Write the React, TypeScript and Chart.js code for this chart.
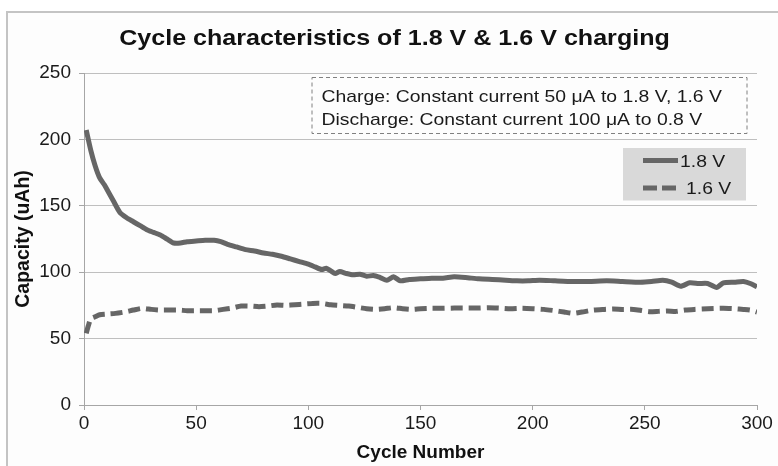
import React, { useEffect, useRef } from "react";
import { Chart, registerables } from "chart.js";

Chart.register(...registerables);

const TITLE = "Cycle characteristics of 1.8 V & 1.6 V charging";
const X_TITLE = "Cycle Number";
const Y_TITLE = "Capacity (uAh)";
const NOTE_LINES = [
  "Charge: Constant current 50 \u03bcA to 1.8 V, 1.6 V",
  "Discharge: Constant current 100 \u03bcA to 0.8 V",
];
const SERIES_NAMES = ["1.8 V", "1.6 V"];

const cycles18 = [1, 3, 5, 7, 9, 11, 13, 16, 19, 22, 25, 28, 31, 34, 37, 40, 43, 46, 50, 54, 58, 61, 64, 68, 72, 76, 80, 84, 88, 92, 96, 100, 103, 106, 108, 110, 112, 114, 117, 120, 123, 126, 129, 132, 135, 138, 141, 145, 150, 155, 160, 165, 170, 176, 182, 188, 193, 198, 203, 210, 218, 225, 233, 240, 248, 253, 258, 262, 266, 270, 274, 278, 282, 285, 290, 294, 297, 300];
const cap18 = [207, 192, 180, 171, 166, 160, 154, 145, 141, 138, 135, 132, 130, 128, 125, 122, 122, 123, 123.5, 124, 124, 123, 121, 119, 117, 116, 114.5, 113.5, 112, 110, 108, 106, 104, 102, 103, 101, 99, 100.5, 99, 98, 98.5, 97, 97.5, 96, 94, 96.5, 93.5, 94.5, 95, 95.5, 95.5, 96.5, 96, 95, 94.5, 94, 93.5, 93.5, 94, 93.5, 93, 93, 93.5, 93, 92.5, 93, 94, 92.5, 89.5, 92, 91.5, 91.5, 88.5, 92, 92.5, 93, 91.5, 89];

const cycles16 = [1, 2, 3, 5, 7, 10, 14, 18, 22, 26, 30, 34, 38, 42, 46, 50, 54, 58, 62, 66, 70, 74, 78, 82, 86, 90, 94, 98, 102, 106, 110, 114, 118, 122, 126, 130, 134, 138, 142, 146, 150, 155, 160, 165, 170, 175, 180, 185, 190, 195, 200, 205, 210, 214, 218, 222, 227, 232, 236, 240, 245, 249, 252, 256, 260, 264, 268, 272, 278, 285, 290, 294, 297, 300];
const cap16 = [54, 60, 65, 66.5, 68, 68.5, 69, 70, 71.5, 72.8, 72, 71.5, 71.5, 71.5, 71, 71, 71, 71, 72, 73, 74.5, 74.5, 74, 74.5, 75.3, 75, 75.5, 76, 76.5, 76.5, 75.5, 75, 74.5, 73.5, 72.5, 72, 72.5, 73.3, 72.5, 72, 72.5, 72.8, 72.8, 73, 73, 73, 73.3, 73, 72.5, 72.8, 72.5, 72, 71, 70, 69, 70, 71.5, 72, 72.3, 72, 72, 71, 70.3, 70.5, 70.8, 70.5, 71.5, 72, 72.5, 72.8, 72.5, 72, 71.5, 70];

const X_TICKS = [0, 50, 100, 150, 200, 250, 300];
const Y_TICKS = [0, 50, 100, 150, 200, 250];

const FONT = "'Liberation Sans', Arial, sans-serif";
const LINE_COLOR = "#666666";
const TEXT_COLOR = "#111111";
const STRETCH = 1.14;

function stretchedText(
  ctx: CanvasRenderingContext2D,
  text: string,
  x: number,
  y: number,
  align: "left" | "center"
) {
  ctx.save();
  ctx.translate(x, y);
  ctx.scale(STRETCH, 1);
  ctx.textAlign = align;
  ctx.textBaseline = "alphabetic";
  ctx.fillText(text, 0, 0);
  ctx.restore();
}

const overlayPlugin = {
  id: "overlay",
  afterDraw(chart: any) {
    const ctx = chart.ctx as CanvasRenderingContext2D;
    const a = chart.chartArea;
    ctx.save();
    // title
    ctx.fillStyle = TEXT_COLOR;
    ctx.font = `bold 22px ${FONT}`;
    stretchedText(ctx, TITLE, 394.5, 45, "center");
    // note box
    const nx = a.right - 445.5, ny = a.top + 4, nw = 435, nh = 56;
    ctx.fillStyle = "#fdfdfd";
    ctx.fillRect(nx, ny, nw, nh);
    ctx.setLineDash([4, 3]);
    ctx.strokeStyle = "#808080";
    ctx.lineWidth = 1;
    ctx.strokeRect(nx + 0.5, ny + 0.5, nw, nh);
    ctx.setLineDash([]);
    ctx.fillStyle = "#1a1a1a";
    ctx.font = `17px ${FONT}`;
    stretchedText(ctx, NOTE_LINES[0], nx + 10, ny + 24.5, "left");
    stretchedText(ctx, NOTE_LINES[1], nx + 10, ny + 48, "left");
    // legend box
    const lx = a.right - 134, ly = a.top + 75, lw = 123, lh = 52.5;
    ctx.fillStyle = "#d9d9d9";
    ctx.fillRect(lx, ly, lw, lh);
    ctx.strokeStyle = LINE_COLOR;
    ctx.lineWidth = 5;
    ctx.beginPath();
    ctx.moveTo(lx + 20, ly + 12.5);
    ctx.lineTo(lx + 55, ly + 12.5);
    ctx.stroke();
    ctx.setLineDash([14, 5]);
    ctx.beginPath();
    ctx.moveTo(lx + 20, ly + 40);
    ctx.lineTo(lx + 53, ly + 40);
    ctx.stroke();
    ctx.setLineDash([]);
    ctx.fillStyle = "#1a1a1a";
    ctx.font = `17px ${FONT}`;
    stretchedText(ctx, SERIES_NAMES[0], lx + 57, ly + 18.5, "left");
    stretchedText(ctx, SERIES_NAMES[1], lx + 63, ly + 46, "left");
    ctx.restore();
  },
};

export default function App() {
  const ref = useRef<HTMLCanvasElement | null>(null);
  useEffect(() => {
    if (!ref.current) return;
    const chart = new Chart(ref.current, {
      type: "line",
      data: {
        datasets: [
          {
            label: SERIES_NAMES[0],
            data: cycles18.map((c, i) => ({ x: c, y: cap18[i] })),
            borderColor: LINE_COLOR,
            borderWidth: 5,
            pointRadius: 0,
            tension: 0.2,
            fill: false,
          },
          {
            label: SERIES_NAMES[1],
            data: cycles16.map((c, i) => ({ x: c, y: cap16[i] })),
            borderColor: LINE_COLOR,
            borderWidth: 5,
            borderDash: [12, 6],
            pointRadius: 0,
            tension: 0.2,
            fill: false,
          },
        ],
      },
      options: {
        animation: false,
        responsive: false,
        maintainAspectRatio: false,
        layout: { padding: { left: 8, right: 21, top: 73, bottom: 0 } },
        plugins: {
          legend: { display: false },
          tooltip: { enabled: false },
          title: { display: false },
        },
        scales: {
          x: {
            type: "linear",
            min: 0,
            max: 300,
            afterBuildTicks: (s: any) => {
              s.ticks = X_TICKS.map((v) => ({ value: v }));
            },
            afterFit: (s: any) => {
              s.height = 61;
            },
            grid: {
              drawOnChartArea: false,
              drawTicks: true,
              tickLength: 5,
              color: "#a6a6a6",
            },
            border: { color: "#a6a6a6", width: 1 },
            ticks: {
              color: "#1a1a1a",
              font: { family: FONT, size: 19 },
              padding: 2,
              maxRotation: 0,
            },
            title: {
              display: true,
              text: X_TITLE,
              color: TEXT_COLOR,
              font: { family: FONT, size: 19, weight: "bold" },
              padding: { top: 0, bottom: 2 },
            },
          },
          y: {
            type: "linear",
            min: 0,
            max: 250,
            afterBuildTicks: (s: any) => {
              s.ticks = Y_TICKS.map((v) => ({ value: v }));
            },
            afterFit: (s: any) => {
              s.width = 76;
            },
            grid: {
              color: "#bfbfbf",
              lineWidth: 1,
              drawTicks: true,
              tickLength: 5,
              tickColor: "#a6a6a6",
            },
            border: { color: "#a6a6a6", width: 1 },
            ticks: {
              color: "#1a1a1a",
              font: { family: FONT, size: 19 },
              padding: 8,
            },
            title: {
              display: true,
              text: Y_TITLE,
              color: TEXT_COLOR,
              font: { family: FONT, size: 19.5, weight: "bold" },
              padding: { top: 4, bottom: 0 },
            },
          },
        },
      },
      plugins: [overlayPlugin],
    });
    return () => chart.destroy();
  }, []);

  return (
    <div
      style={{
        position: "fixed",
        left: 0,
        top: 0,
        width: 778,
        height: 466,
        background: "#ffffff",
        overflow: "hidden",
      }}
    >
      <div
        style={{
          position: "absolute",
          left: 6,
          top: 11,
          width: 800,
          height: 500,
          borderLeft: "2px solid #c4c4c4",
          borderTop: "2px solid #c4c4c4",
          background: "#fdfdfd",
        }}
      />
      <canvas
        ref={ref}
        width={778}
        height={466}
        style={{ position: "absolute", left: 0, top: 0, width: 778, height: 466 }}
      />
    </div>
  );
}
